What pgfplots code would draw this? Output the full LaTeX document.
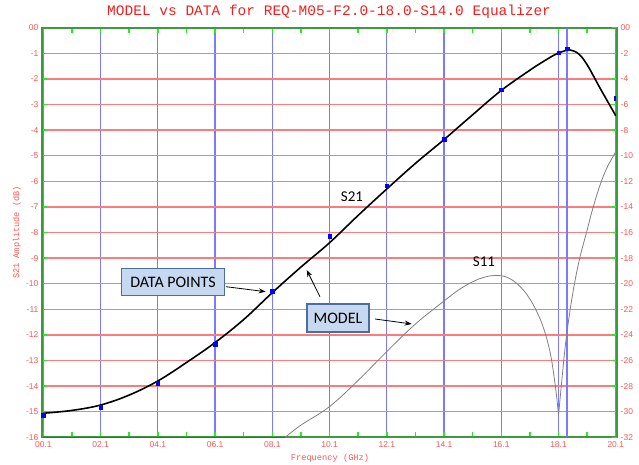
\documentclass[border=0pt]{standalone}
\usepackage{pgfplots}
\pgfplotsset{compat=1.18}
\usepackage{pgfplotstable}
\usepackage{fontspec}
\setmainfont{Liberation Sans}
\newfontfamily\monofont{Liberation Mono}
\newfontfamily\calfont{Carlito}
\usetikzlibrary{arrows.meta}
\definecolor{gridred}{HTML}{FF7A7A}
\definecolor{gridblue}{HTML}{7A7AFF}
\definecolor{framegreen}{HTML}{3C9C3C}
\definecolor{tickgreen}{HTML}{22EE22}
\definecolor{labred}{HTML}{FF5555}
\definecolor{titlered}{HTML}{F02020}
\definecolor{boxfill}{HTML}{C6D9F1}
\definecolor{boxdraw}{HTML}{4A6E9E}

\pgfplotstableread{
f db
0.1 -15.06
1.1 -14.95
2.1 -14.74
3.1 -14.35
4.1 -13.80
5.1 -13.08
6.1 -12.30
7.1 -11.40
8.1 -10.35
9.1 -9.35
10.1 -8.40
11.1 -7.33
12.1 -6.30
13.1 -5.30
14.1 -4.37
15.1 -3.40
16.1 -2.45
17.1 -1.66
17.6 -1.30
18.0 -1.04
18.3 -0.91
18.5 -0.87
18.8 -1.02
19.1 -1.45
19.55 -2.36
19.85 -2.95
20.1 -3.44
}\modelS

\pgfplotstableread{
f db
0.1 -15.13
2.1 -14.83
4.1 -13.89
6.1 -12.36
8.1 -10.29
10.1 -8.15
12.1 -6.17
14.1 -4.35
16.1 -2.43
18.1 -0.97
18.4 -0.83
20.1 -2.75
}\dataS

\pgfplotstableread{
f db
0.1 -32
8.55 -32
}\sElevenFloor

\pgfplotstableread{
f db
8.55 -32
9.1 -31.05
10.1 -29.6
11.1 -27.55
12.1 -25.3
13.1 -23.15
14.1 -21.35
14.6 -20.5
15.1 -19.85
15.5 -19.5
15.9 -19.35
16.3 -19.5
16.7 -20.1
17.1 -21.2
17.5 -23.0
17.8 -25.3
18.0 -28.2
18.1 -30.3
}\sElevenLow

\pgfplotstableread{
f db
18.1 -30.3
18.2 -27.9
18.35 -24.6
18.55 -21.4
18.8 -18.4
19.1 -15.8
19.3 -14.1
19.55 -12.3
19.8 -10.9
20.1 -9.7
}\sElevenHigh

\begin{document}
\begin{tikzpicture}[x=1bp,y=1bp]
\path[use as bounding box] (0,0) rectangle (639,465);
\begin{axis}[
  at={(41.9bp,27.7bp)}, anchor=south west, scale only axis,
  width=575.3bp, height=409.6bp,
  xmin=0.05, xmax=20.15, ymin=-16, ymax=0,
  axis line style={framegreen, line width=2bp},
  xtick={0.1,2.1,4.1,6.1,8.1,10.1,12.1,14.1,16.1,18.1,20.1},
  xticklabels={00.1,02.1,04.1,06.1,08.1,10.1,12.1,14.1,16.1,18.1,20.1},
  minor xtick={1.1,3.1,5.1,7.1,9.1,11.1,13.1,15.1,17.1,19.1},
  extra x ticks={18.4}, extra x tick labels={},
  extra x tick style={grid=major, major tick length=0pt},
  ytick={-16,-15,-14,-13,-12,-11,-10,-9,-8,-7,-6,-5,-4,-3,-2,-1,0},
  yticklabels={-16,-15,-14,-13,-12,-11,-10,-9,-8,-7,-6,-5,-4,-3,-2,-1,00},
  xtick pos=both, ytick pos=left, tick align=inside,
  major tick length=5bp, minor tick length=5bp,
  tick style={tickgreen, line width=1.5bp},
  xmajorgrids, ymajorgrids,
  major x grid style={gridblue, line width=1.3bp},
  major y grid style={gridred, line width=1.3bp},
  tick label style={text=labred, font=\fontsize{8.5bp}{10bp}\selectfont},
  xticklabel style={yshift=-1bp},
  xlabel={Frequency (GHz)},
  xlabel style={at={(axis description cs:0.5008,-0.0513)}, anchor=center, text=labred, font=\monofont\fontsize{8.7bp}{10bp}\selectfont},
  ylabel={S21 Amplitude (dB)},
  ylabel style={at={(axis description cs:-0.0435,0.5)}, anchor=center, text=labred, font=\monofont\fontsize{8.6bp}{10bp}\selectfont},
  title={MODEL vs DATA for REQ-M05-F2.0-18.0-S14.0 Equalizer},
  title style={at={(axis description cs:0.4992,1.016)}, anchor=base, text=titlered, font=\monofont\fontsize{14.5bp}{16bp}\selectfont},
]
\addplot[black, line width=1.6bp, smooth, tension=0.6] table[x=f, y=db] {\modelS};
\addplot[only marks, mark=square*, mark size=1.7bp, blue] table[x=f, y=db] {\dataS};
\end{axis}
\begin{axis}[
  at={(41.9bp,27.7bp)}, anchor=south west, scale only axis,
  width=575.3bp, height=409.6bp,
  xmin=0.05, xmax=20.15, ymin=-32, ymax=0,
  axis x line=none, axis y line*=right,
  axis line style={-, framegreen, line width=2bp},
  ytick={-32,-30,-28,-26,-24,-22,-20,-18,-16,-14,-12,-10,-8,-6,-4,-2,0},
  yticklabels={-32,-30,-28,-26,-24,-22,-20,-18,-16,-14,-12,-10,-8,-6,-4,-2,00},
  tick align=inside, major tick length=5bp,
  tick style={tickgreen, line width=1.5bp},
  tick label style={text=labred, font=\fontsize{8.5bp}{10bp}\selectfont},
  clip=false,
]
\addplot[gray!70!black, line width=0.8bp] table[x=f, y=db] {\sElevenFloor};
\addplot[gray, line width=0.8bp, smooth, tension=0.6] table[x=f, y=db] {\sElevenLow};
\addplot[gray, line width=0.8bp, smooth, tension=0.6] table[x=f, y=db] {\sElevenHigh};
\end{axis}
\node[draw=boxdraw, fill=boxfill, line width=1.3bp, minimum width=102.6bp, minimum height=27.4bp, inner sep=0pt, font=\calfont\fontsize{16bp}{18bp}\selectfont] at (173,183) {DATA POINTS};
\draw[-{Stealth[length=7bp,width=5bp]}, line width=0.8bp] (226,178.3) -- (265.7,173.3);
\node[draw=boxdraw, fill=boxfill, line width=1.3bp, minimum width=62bp, minimum height=28bp, inner sep=0pt, font=\calfont\fontsize{16bp}{18bp}\selectfont] at (338,147) {MODEL};
\draw[-{Stealth[length=7bp,width=5bp]}, line width=0.8bp] (320,168.3) -- (306.7,195);
\draw[-{Stealth[length=7bp,width=5bp]}, line width=0.8bp] (375,146) -- (411.7,141);
\node[font=\calfont\fontsize{15bp}{17bp}\selectfont] at (352,268) {S21};
\node[font=\calfont\fontsize{15bp}{17bp}\selectfont] at (484,203) {S11};
\end{tikzpicture}
\end{document}
